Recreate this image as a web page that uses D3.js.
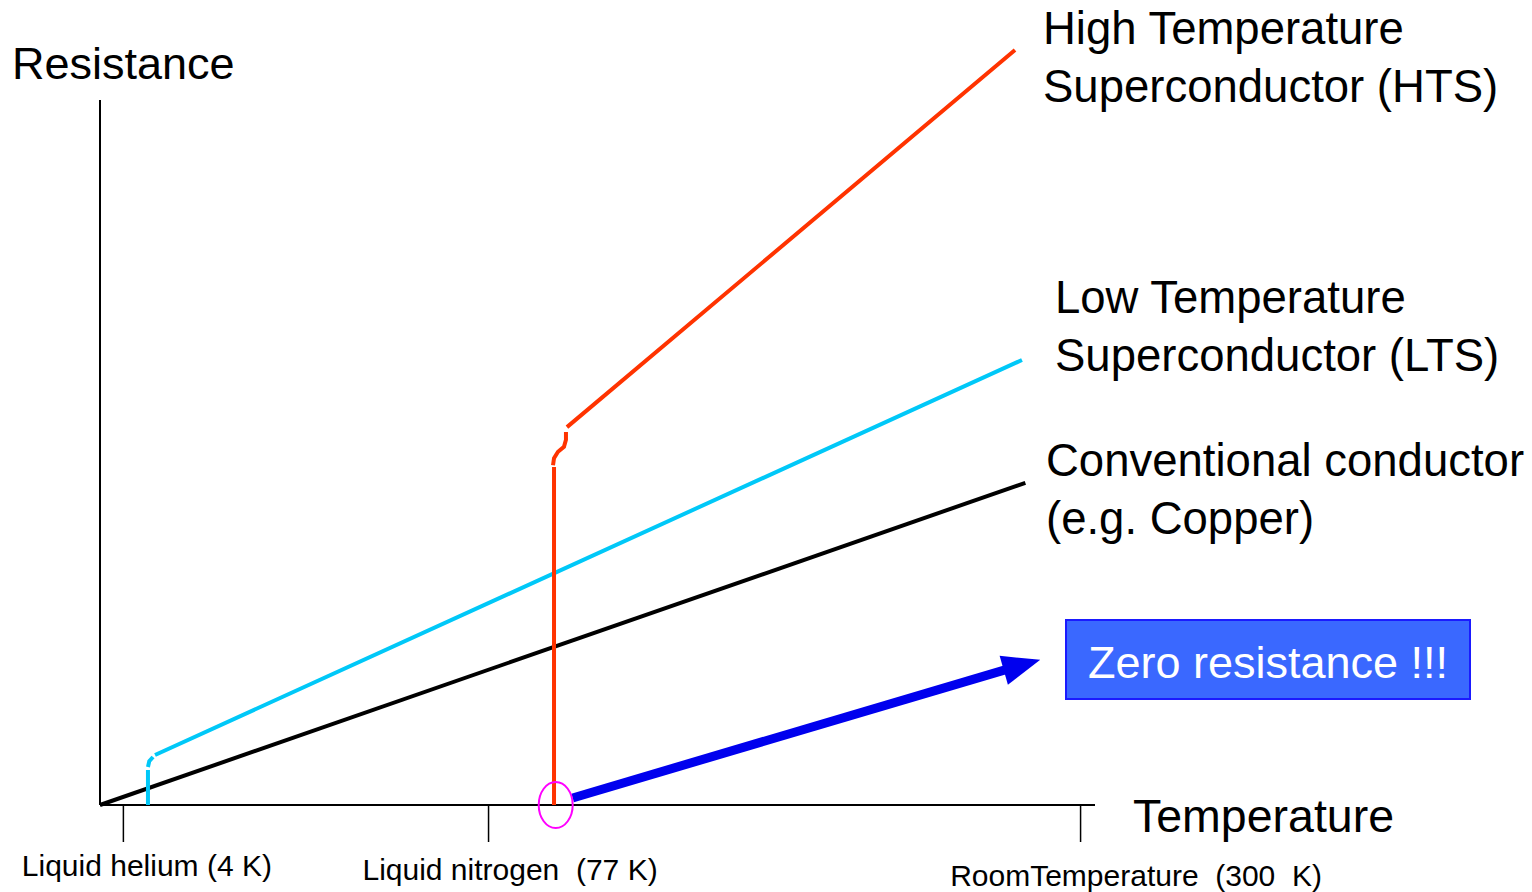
<!DOCTYPE html>
<html><head><meta charset="utf-8">
<script src="https://cdn.jsdelivr.net/npm/d3@7"></script>
<style>html,body{margin:0;padding:0;background:#fff;}svg{display:block;}text{white-space:pre;}</style>
</head><body>
<svg id="c" width="1532" height="892"></svg>
<script>
// ---- data (schematic units: temperature 0-100, resistance 0-100) ----
const tickTemps = [2.3, 39.0, 98.5];
const tickLabels = ["Liquid helium (4 K)", "Liquid nitrogen  (77 K)", "RoomTemperature  (300  K)"];
const copperT = [0, 93.0];
const copperR = [0, 45.7];
const ltsT = [4.82, 4.82, null, 4.82, 4.95, 5.33, null, 5.53, 92.66];
const ltsR = [0, 4.96, null, 5.39, 6.2, 6.81, null, 7.09, 63.12];
const htsT = [45.63, 45.63, null, 45.53, 45.63, 46.03, 46.63, 46.83, 46.83, null, 46.93, 91.96];
const htsR = [0, 47.94, null, 48.2, 49.2, 50.1, 50.8, 51.8, 52.9, null, 53.6, 107.1];
const arrowT = [47.5, 91.3];
const arrowR = [1.0, 19.3];
const arrowTip = [94.5, 20.6];
const seriesNames = [["High Temperature", "Superconductor (HTS)"], ["Low Temperature", "Superconductor (LTS)"], ["Conventional conductor", "(e.g. Copper)"]];
const calloutText = "Zero resistance !!!";

const svg = d3.select("#c");
const x = d3.scaleLinear().domain([0, 100]).range([100, 1095]);
const y = d3.scaleLinear().domain([0, 100]).range([805, 100]);
const FONT = "'Liberation Sans', Arial, sans-serif";

// axes
svg.append("line").attr("x1", x(0)).attr("x2", x(0)).attr("y1", y(0)).attr("y2", y(100))
  .attr("stroke", "#000").attr("stroke-width", 2);
const xAxis = svg.append("g").attr("transform", `translate(0,${y(0)})`)
  .call(d3.axisBottom(x).tickValues(tickTemps).tickSize(37).tickFormat(""));
xAxis.select(".domain").attr("d", `M${x(0)},0H${x(100)}`).attr("stroke-width", 2);
xAxis.selectAll(".tick line").attr("stroke-width", 1.5);
const labelDx = [24, 22, 56];
const labelDy = [71, 75, 81];
tickLabels.forEach((t, i) => {
  svg.append("text").attr("x", x(tickTemps[i]) + labelDx[i]).attr("y", y(0) + labelDy[i])
    .attr("text-anchor", "middle").attr("font-family", FONT).attr("font-size", 30).text(t);
});

svg.append("text").attr("x", 12).attr("y", 79).attr("font-family", FONT).attr("font-size", 45).text("Resistance");
svg.append("text").attr("x", 1133).attr("y", 832).attr("font-family", FONT).attr("font-size", 46.5).text("Temperature");

const line = d3.line().defined(d => d[0] != null).x(d => x(d[0])).y(d => y(d[1])).curve(d3.curveLinear);
const zip = (a, b) => a.map((v, i) => [v, b[i]]);

svg.append("path").attr("d", line(zip(copperT, copperR))).attr("fill", "none").attr("stroke", "#000").attr("stroke-width", 4);
svg.append("path").attr("d", line(zip(ltsT, ltsR))).attr("fill", "none").attr("stroke", "#00c8f8").attr("stroke-width", 4);
svg.append("path").attr("d", line(zip(htsT, htsR))).attr("fill", "none").attr("stroke", "#ff3300").attr("stroke-width", 4);

// arrow
svg.append("path").attr("d", line(zip(arrowT, arrowR))).attr("stroke", "#0000ee").attr("stroke-width", 9).attr("fill", "none");
{
  const tx = x(arrowTip[0]), ty = y(arrowTip[1]);
  const bx = x(arrowT[1]), by = y(arrowR[1]);
  const ang = Math.atan2(ty - by, tx - bx);
  const len = 38, half = 15;
  const px = tx - len * Math.cos(ang), py = ty - len * Math.sin(ang);
  const nx = -Math.sin(ang), ny = Math.cos(ang);
  svg.append("path").attr("d", `M${tx},${ty}L${px + nx * half},${py + ny * half}L${px - nx * half},${py - ny * half}Z`).attr("fill", "#0000ee");
}
svg.append("ellipse").attr("cx", x(45.8)).attr("cy", y(0)).attr("rx", 17).attr("ry", 23)
  .attr("fill", "none").attr("stroke", "#ff00ff").attr("stroke-width", 2);

// series labels
const labelPos = [[1043, 44], [1055, 313], [1046, 476]];
seriesNames.forEach((ls, i) => {
  ls.forEach((t, j) => svg.append("text").attr("x", labelPos[i][0]).attr("y", labelPos[i][1] + j * 58)
    .attr("font-family", FONT).attr("font-size", 45.5).text(t));
});

// callout
svg.append("rect").attr("x", 1066).attr("y", 620).attr("width", 404).attr("height", 79)
  .attr("fill", "#3a68ff").attr("stroke", "#1a1aff").attr("stroke-width", 2);
svg.append("text").attr("x", 1268).attr("y", 678).attr("text-anchor", "middle").attr("fill", "#fff")
  .attr("font-family", FONT).attr("font-size", 45).text(calloutText);
</script>
</body></html>
